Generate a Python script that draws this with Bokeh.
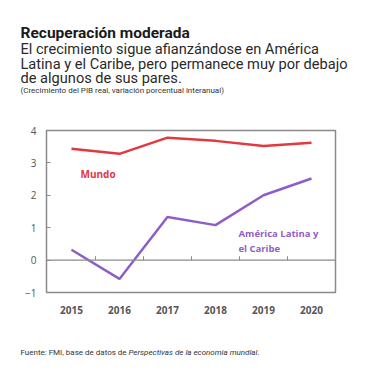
from bokeh.plotting import figure
from bokeh.models import Label, Range1d, FixedTicker, Span
from bokeh.layouts import column
from bokeh.embed import file_html
from bokeh.resources import INLINE

years = [2015, 2016, 2017, 2018, 2019, 2020]
mundo = [3.44, 3.28, 3.78, 3.68, 3.52, 3.62]
alc = [0.32, -0.58, 1.33, 1.08, 2.00, 2.52]
y_ticks = [-1, 0, 1, 2, 3, 4]

title = "Recuperación moderada"
subtitle = ["El crecimiento sigue afianzándose en América",
            "Latina y el Caribe, pero permanece muy por debajo",
            "de algunos de sus pares."]
note = "(Crecimiento del PIB real, variación porcentual interanual)"
source_plain = "Fuente: FMI, base de datos de"
source_italic = "Perspectivas de la economía mundial."

RED = "#e2383f"
PURPLE = "#8e5ec8"
GRAY = "#8a8a8a"

W = 367
HEAD_H, MAIN_H, FOOT_H = 112, 222, 35
FL, FR, FT, FB = 46, 335, 130, 292  # frame in page px
x0, x1 = 2014.48, 2020.5
y0, y1 = -1, 4


def panel(h):
    f = figure(width=W, height=h, output_backend="svg", toolbar_location=None,
               x_axis_type=None, y_axis_type=None,
               x_range=Range1d(0, W), y_range=Range1d(h, 0),
               min_border=0)
    f.outline_line_color = None
    f.grid.visible = False
    f.background_fill_color = "white"
    f.border_fill_color = "white"
    return f


def lab(fig, text, px, py, size, color="#222222", style="normal", font="Roboto"):
    fig.add_layout(Label(x=px, y=py, x_units="canvas", y_units="canvas",
                         text=text, text_font=font,
                         text_font_size=size, text_color=color,
                         text_font_style=style, text_baseline="alphabetic",
                         text_align="left"))


head = panel(HEAD_H)
lab(head, title, 20, 32.5, "15.5px", "#1a1a1a", "bold")
for i, s in enumerate(subtitle):
    lab(head, s, 20, 48.5 + i * 14.7, "14.6px", "#2a2a2a")
lab(head, note, 20, 89.5, "8px", "#333333")

top = HEAD_H
p = figure(width=W, height=MAIN_H, output_backend="svg", toolbar_location=None,
           x_range=Range1d(x0, x1), y_range=Range1d(y0, y1),
           min_border_left=FL, min_border_right=W - FR,
           min_border_top=FT - top, min_border_bottom=top + MAIN_H - FB)
p.background_fill_color = "white"
p.border_fill_color = "white"
p.outline_line_color = GRAY
p.outline_line_width = 1.5
p.grid.visible = False

p.xaxis.ticker = FixedTicker(ticks=years)
p.yaxis.ticker = FixedTicker(ticks=y_ticks)
for ax in (p.xaxis[0], p.yaxis[0]):
    ax.axis_line_color = None
    ax.major_label_text_color = "#555555"
    ax.major_label_text_font = "Open Sans"
    ax.major_label_text_font_size = "10px"
    ax.minor_tick_line_color = None
p.xaxis.major_tick_line_color = None
p.xaxis.major_label_standoff = 7
p.xaxis.major_label_text_font_style = "bold"
p.yaxis.major_tick_in = 4
p.yaxis.major_tick_out = 0
p.yaxis.major_tick_line_color = GRAY
p.yaxis.major_label_standoff = 10

p.add_layout(Span(location=0, dimension="width", line_color=GRAY, line_width=1.2))
mids = [(a + b) / 2 for a, b in zip(years[:-1], years[1:])]
p.segment(x0=mids, x1=mids, y0=[0] * len(mids), y1=[0.12] * len(mids),
          line_color=GRAY, line_width=1)

p.line(years, mundo, line_color=RED, line_width=2.5)
p.line(years, alc, line_color=PURPLE, line_width=2.5)

lab(p, "Mundo", 80, 173 - top, "10px", RED, "bold", "Open Sans")
lab(p, "América Latina y", 238, 233 - top, "9.5px", PURPLE, "bold", "Open Sans")
lab(p, "el Caribe", 238, 248 - top, "9.5px", PURPLE, "bold", "Open Sans")

foot = panel(FOOT_H)
ftop = HEAD_H + MAIN_H
lab(foot, source_plain, 20, 352 - ftop, "8px", "#333333")
lab(foot, source_italic, 128, 352 - ftop, "8px", "#333333", "italic")

layout = column(column(head), p, column(foot), spacing=0)
open("out.html", "w").write(file_html(layout, INLINE))
